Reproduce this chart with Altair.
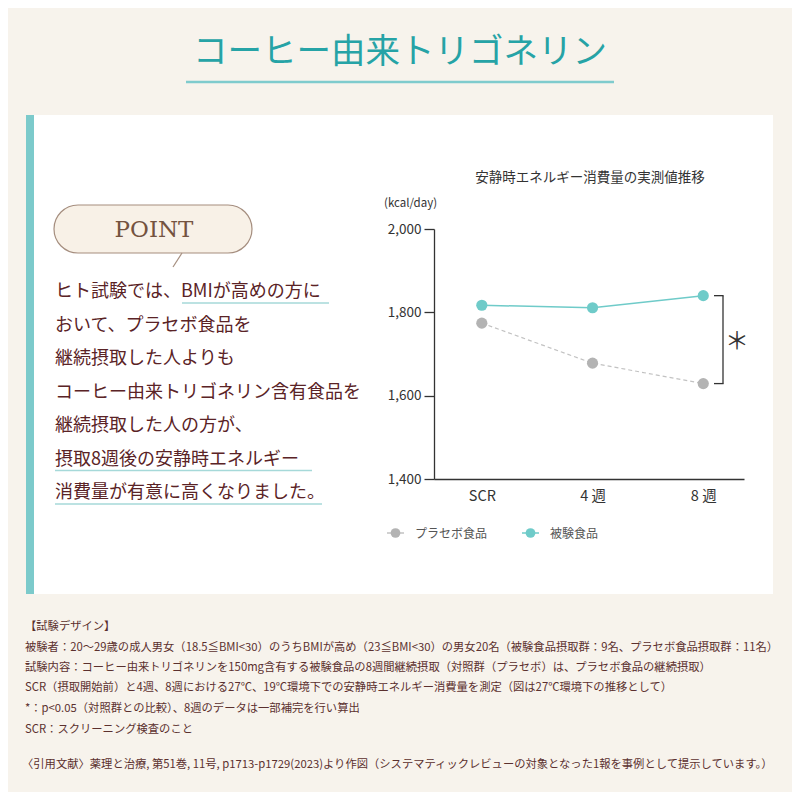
import altair as alt
import pandas as pd

# ---------------- data ----------------
periods = ["SCR", "4 週", "8 週"]
series_names = ["プラセボ食品", "被験食品"]
placebo_values = [1774, 1678, 1629]
test_values = [1817, 1811, 1840]
y_tick_values = [1400, 1600, 1800, 2000]

main_title = "コーヒー由来トリゴネリン"
chart_title = "安静時エネルギー消費量の実測値推移"
unit_label = "(kcal/day)"
point_label = "POINT"
sig_mark = "＊"
point_lines = [
    "ヒト試験では、BMIが高めの方に",
    "おいて、プラセボ食品を",
    "継続摂取した人よりも",
    "コーヒー由来トリゴネリン含有食品を",
    "継続摂取した人の方が、",
    "摂取8週後の安静時エネルギー",
    "消費量が有意に高くなりました。",
]
note_lines = [
    "【試験デザイン】",
    "被験者：20〜29歳の成人男女（18.5≦BMI<30）のうちBMIが高め（23≦BMI<30）の男女20名（被験食品摂取群：9名、プラセボ食品摂取群：11名）",
    "試験内容：コーヒー由来トリゴネリンを150mg含有する被験食品の8週間継続摂取（対照群（プラセボ）は、プラセボ食品の継続摂取）",
    "SCR（摂取開始前）と4週、8週における27℃、19℃環境下での安静時エネルギー消費量を測定（図は27℃環境下の推移として）",
    "*：p<0.05（対照群との比較）、8週のデータは一部補完を行い算出",
    "SCR：スクリーニング検査のこと",
]
citation_text = "〈引用文献〉薬理と治療, 第51巻, 11号, p1713-p1729(2023)より作図（システマティックレビューの対象となった1報を事例として提示しています。）"

df = pd.DataFrame({
    "period": periods * 2,
    "series": [series_names[0]] * len(periods) + [series_names[1]] * len(periods),
    "value": placebo_values + test_values,
})

# ---------------- styles / layout ----------------
FONT = "Noto Sans CJK JP"
BG = "#f7f3ec"
TEAL_TEXT = "#26a3a6"
TEAL_LINE = "#7fcbcd"
BAR = "#7ccacb"
BROWN = "#5a2326"
NOTE = "#5b302e"
TEST = "#6fcbc9"
PLAC_PT = "#b3b3b3"
PLAC_LN = "#c2c2c2"
AX = "#333333"
W = H = 784


def S(v):
    return v - 8  # page margin


one = pd.DataFrame({"k": [0]})


def rect(x1, x2, y1, y2, **kw):
    return alt.Chart(one).mark_rect(**kw).encode(
        x=alt.value(S(x1)), x2=alt.value(S(x2)), y=alt.value(S(y1)), y2=alt.value(S(y2)))


def hrule(x1, x2, y, **kw):
    return alt.Chart(one).mark_rule(**kw).encode(
        x=alt.value(S(x1)), x2=alt.value(S(x2)), y=alt.value(S(y)))


def text(t, x, y, **kw):
    kw.setdefault("font", FONT)
    kw.setdefault("baseline", "alphabetic")
    return alt.Chart(one).mark_text(text=t, **kw).encode(x=alt.value(S(x)), y=alt.value(S(y)))


layers = []
# panel
layers.append(rect(26, 773, 115, 594, color="white"))
layers.append(rect(26, 34, 115, 594, color=BAR))
# main title
layers.append(text(main_title, 400, 63, fontSize=34.5, color=TEAL_TEXT, align="center"))
layers.append(hrule(186, 614, 82, color=TEAL_LINE, strokeWidth=2.5))
# POINT bubble
layers.append(rect(54, 252, 205, 253, fill="#f8f1e7", stroke="#a58e7f", strokeWidth=1.2, cornerRadius=24))
layers.append(alt.Chart(one).mark_rule(color="#a58e7f", strokeWidth=1.2).encode(
    x=alt.value(S(182)), y=alt.value(S(253)), x2=alt.value(S(173)), y2=alt.value(S(267))))
layers.append(text(point_label, 154, 237, font="DejaVu Serif", fontSize=23, color="#74533f",
                   align="center"))
# body text
body_base = 297
body_step = 33.5
for i, line in enumerate(point_lines):
    layers.append(text(line, 55, body_base + body_step * i, fontSize=18, color=BROWN, align="left"))
for (x1, x2, li) in [(182, 329, 0), (55, 312, 5), (55, 322, 6)]:
    layers.append(hrule(x1, x2, body_base + body_step * li + 6, color="#a6d9d9", strokeWidth=1.5))

# footnotes
note_base = [629.5, 651, 670.5, 691, 711.5, 732.5]
for i, line in enumerate(note_lines):
    layers.append(text(line, 25, note_base[i], fontSize=11.3, color=NOTE, align="left"))
layers.append(text(citation_text, 22, 767.5, fontSize=11.3, color=NOTE, align="left"))

# chart texts
layers.append(text(chart_title, 590, 182, fontSize=13.5, color=AX, align="center"))
layers.append(text(unit_label, 384, 207, fontSize=11.5, color=AX, align="left"))

# ---------------- data layers ----------------
x_scale = alt.Scale(type="point", domain=periods, range=[S(434), S(744)], padding=0.4, align=0.54)
y_scale = alt.Scale(domain=[1400, 2000], range=[S(479), S(229)], nice=False, zero=False)
x_axis = alt.Axis(title=None, ticks=False, tickSize=0, labelAngle=0, labelFontSize=14.5, labelColor=AX,
                  labelFont=FONT, labelPadding=10, domainColor=AX, domainWidth=1.3, grid=False,
                  offset=-(H - S(479)), zindex=1)
y_axis = alt.Axis(title=None, values=y_tick_values, labelExpr="format(datum.value, ',')", grid=False,
                  tickSize=10, tickColor=AX, tickWidth=1.3, domainColor=AX, domainWidth=1.3,
                  labelFontSize=13.5, labelColor=AX, labelFont=FONT, labelPadding=3,
                  offset=-S(434), zindex=1)
X = alt.X("period:N", sort=periods, scale=x_scale, axis=x_axis)
Y = alt.Y("value:Q", scale=y_scale, axis=y_axis)

placebo_line = alt.Chart(df).transform_filter(alt.datum.series == series_names[0]).mark_line(
    color=PLAC_LN, strokeWidth=1.2, strokeDash=[4, 3]).encode(x=X, y=Y)
test_line = alt.Chart(df).transform_filter(alt.datum.series == series_names[1]).mark_line(
    color=TEST, strokeWidth=1.5).encode(x=X, y=Y)
points = alt.Chart(df).mark_point(filled=True, size=125, opacity=1).encode(
    x=X, y=Y,
    color=alt.Color("series:N", scale=alt.Scale(domain=series_names, range=[PLAC_PT, TEST]), legend=None))

last = periods[-1]
bracket_v = alt.Chart(df).transform_filter(alt.datum.period == last).transform_aggregate(
    lo="min(value)", hi="max(value)").mark_rule(color=AX, strokeWidth=1.3).encode(
    x=alt.value(S(723)), y=alt.Y("lo:Q", scale=y_scale, axis=y_axis), y2="hi:Q")
bracket_h = alt.Chart(df).transform_filter(alt.datum.period == last).mark_rule(
    color=AX, strokeWidth=1.3).encode(x=alt.value(S(714)), x2=alt.value(S(723.6)), y=Y)
layers += [placebo_line, test_line, points, bracket_v, bracket_h]
layers.append(text(sig_mark, 737, 349, fontSize=24, color=AX, align="center"))

# legend (manual)
legend_x = [387, 522]
legend_pt = [PLAC_PT, TEST]
legend_ln = [PLAC_LN, TEST]
for i, name in enumerate(series_names):
    lx = legend_x[i]
    layers.append(hrule(lx, lx + 17, 533, color=legend_ln[i], strokeWidth=1.5))
    layers.append(alt.Chart(one).mark_point(filled=True, size=95, opacity=1, color=legend_pt[i]).encode(
        x=alt.value(S(lx + 8.5)), y=alt.value(S(533))))
    layers.append(text(name, lx + 28, 537.5, fontSize=12, color="#555555", align="left"))

chart = alt.layer(*layers).properties(
    width=W, height=H, background=BG, padding=0,
    autosize=alt.AutoSizeParams(type="none"),
).configure_view(strokeWidth=0)

chart.save("out.html", embed_options={"renderer": "svg", "actions": False})
